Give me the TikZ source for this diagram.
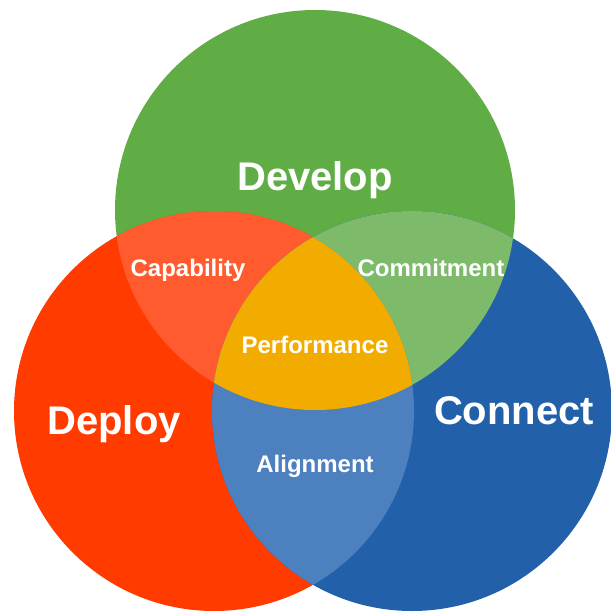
\documentclass[tikz,border=0pt]{standalone}
\usepackage{fontspec}
\setmainfont{Liberation Sans}
\definecolor{cgreen}{HTML}{60AD46}
\definecolor{cred}{HTML}{FF3B00}
\definecolor{cblue}{HTML}{2260AA}
\definecolor{ccap}{HTML}{FF5B2E}
\definecolor{ccom}{HTML}{7DBA6A}
\definecolor{calign}{HTML}{4C80BE}
\definecolor{cperf}{HTML}{F2AC00}
\tikzset{
  setcircle/.style={circle, minimum size=400pt, inner sep=0pt, draw=none},
  biglabel/.style={text=white, font=\bfseries\fontsize{40}{40}\selectfont, anchor=base, inner sep=0pt},
  smalllabel/.style={text=white, font=\bfseries\fontsize{24}{24}\selectfont, anchor=base, inner sep=0pt}
}
\begin{document}
\begin{tikzpicture}[x=1pt, y=-1pt]
\useasboundingbox (0,0) rectangle (610,615);
% circles
\node[setcircle, fill=cgreen] (develop) at (315,210) {};
\node[setcircle, fill=cred] (deploy) at (214,411) {};
\node[setcircle, fill=cblue] (connect) at (412,411) {};
% pairwise overlaps
\begin{scope}
  \clip (315,210) circle (200pt);
  \fill[ccap] (214,411) circle (200pt);
\end{scope}
\begin{scope}
  \clip (315,210) circle (200pt);
  \fill[ccom] (412,411) circle (200pt);
\end{scope}
\begin{scope}
  \clip (214,411) circle (200pt);
  \fill[calign] (412,411) circle (200pt);
\end{scope}
\begin{scope}
  \clip (315,210) circle (200pt);
  \clip (214,411) circle (200pt);
  \fill[cperf] (412,411) circle (200pt);
\end{scope}
% labels
\node[biglabel] (tdevelop) at (315,190) {Develop};
\node[biglabel] (tdeploy) at (114,434) {Deploy};
\node[biglabel] (tconnect) at (514,424) {Connect};
\node[smalllabel] (tcap) at (188,276) {Capability};
\node[smalllabel] (tcom) at (431,276) {Commitment};
\node[smalllabel] (tperf) at (315,353) {Performance};
\node[smalllabel] (talign) at (315,472) {Alignment};
\end{tikzpicture}
\end{document}
